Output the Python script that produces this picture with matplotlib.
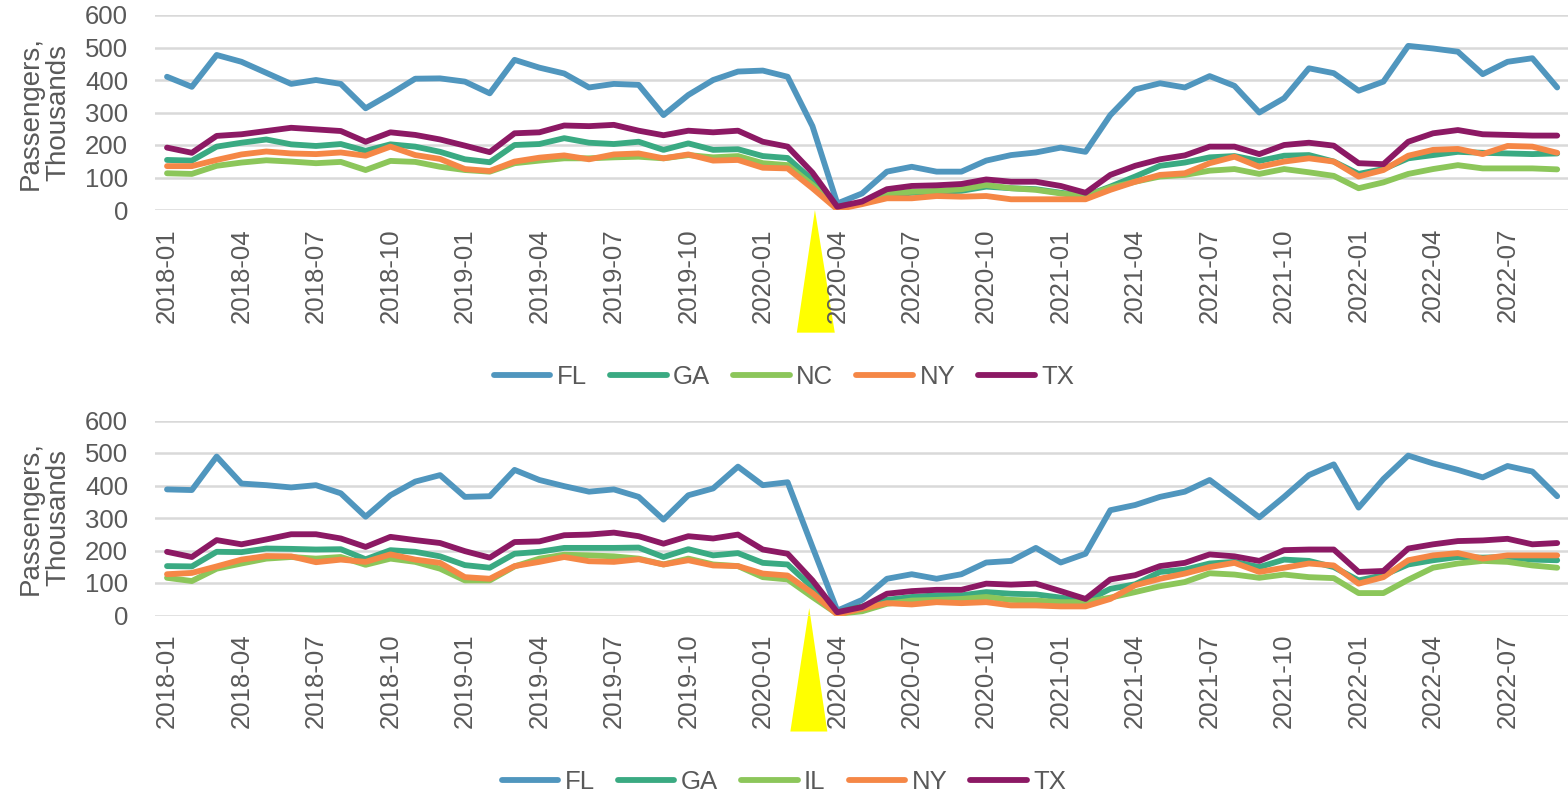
import matplotlib
matplotlib.use("Agg")
import matplotlib.pyplot as plt
import matplotlib.transforms as mtransforms
from matplotlib.patches import Polygon
import pandas as pd

months = pd.date_range("2018-01-01", "2022-09-01", freq="MS").strftime("%Y-%m").tolist()

# Top chart
top_FL = [410, 379, 477, 456, 422, 388, 400, 388, 313, 357, 404, 405, 395, 359, 462, 438, 420, 377, 388, 385,
          292, 354, 400, 426, 429, 410, 258, 20, 51, 118, 133, 118, 118, 152, 169, 177, 192, 179, 292, 371,
          390, 377, 412, 382, 300, 344, 436, 421, 367, 395, 505, 497, 487, 418, 456, 467, 377]
top_GA = [154, 152, 195, 207, 217, 202, 197, 203, 182, 202, 195, 179, 156, 147, 200, 203, 221, 207, 203, 210,
          185, 205, 185, 187, 166, 160, 92, 10, 23, 46, 53, 56, 59, 72, 67, 64, 53, 43, 72, 103,
          136, 146, 162, 166, 151, 167, 169, 149, 111, 126, 159, 169, 179, 176, 174, 172, 174]
top_NC = [113, 111, 136, 146, 153, 149, 144, 148, 123, 151, 148, 133, 123, 118, 144, 152, 159, 159, 162, 164,
          159, 169, 162, 166, 144, 138, 77, 8, 23, 51, 56, 59, 64, 77, 67, 62, 51, 43, 69, 87,
          103, 108, 121, 126, 111, 126, 116, 105, 67, 85, 111, 126, 138, 128, 128, 128, 125]
top_NY = [135, 135, 154, 171, 180, 174, 172, 177, 167, 195, 169, 157, 126, 120, 149, 161, 168, 156, 171, 174,
          159, 171, 152, 154, 130, 128, 67, 2, 18, 36, 36, 43, 41, 43, 33, 33, 33, 33, 62, 87,
          108, 113, 144, 164, 133, 149, 159, 149, 103, 123, 167, 185, 188, 172, 197, 195, 176]
top_TX = [192, 176, 228, 233, 243, 253, 248, 243, 210, 239, 231, 217, 198, 178, 236, 239, 260, 258, 262, 244,
          230, 244, 239, 244, 210, 195, 115, 10, 26, 64, 74, 76, 80, 94, 87, 87, 74, 53, 108, 136,
          156, 168, 195, 195, 172, 200, 207, 198, 144, 141, 210, 236, 246, 233, 231, 229, 229]

# Bottom chart
bot_FL = [388, 386, 489, 406, 401, 394, 401, 376, 304, 370, 412, 432, 365, 367, 448, 417, 398, 381, 388, 365,
          295, 370, 391, 458, 401, 410, 211, 15, 48, 113, 127, 113, 127, 163, 168, 208, 163, 190, 324, 340,
          365, 381, 417, 360, 302, 365, 432, 465, 332, 420, 492, 468, 448, 425, 460, 443, 367]
bot_GA = [152, 151, 196, 195, 206, 205, 203, 204, 173, 201, 196, 182, 155, 147, 190, 196, 208, 208, 208, 209,
          180, 204, 185, 192, 162, 157, 87, 10, 28, 48, 57, 62, 62, 72, 67, 65, 55, 44, 82, 96,
          134, 141, 160, 165, 149, 172, 168, 149, 108, 124, 157, 170, 180, 178, 180, 172, 170]
bot_IL = [116, 106, 144, 160, 175, 180, 175, 180, 156, 175, 165, 144, 108, 108, 151, 175, 187, 185, 182, 175,
          157, 175, 157, 152, 118, 111, 57, 5, 13, 36, 46, 48, 51, 57, 48, 46, 41, 41, 55, 72,
          90, 103, 130, 126, 116, 126, 118, 115, 69, 69, 110, 147, 160, 168, 165, 154, 147]
bot_NY = [127, 131, 151, 172, 183, 182, 164, 172, 165, 188, 172, 162, 118, 113, 152, 165, 180, 167, 165, 173,
          157, 170, 154, 152, 129, 123, 69, 3, 21, 38, 34, 41, 38, 41, 31, 31, 28, 28, 51, 93,
          113, 129, 149, 162, 134, 147, 160, 154, 98, 118, 170, 185, 192, 175, 185, 185, 185]
bot_TX = [196, 180, 232, 219, 234, 250, 250, 237, 211, 242, 232, 223, 198, 178, 226, 228, 247, 249, 255, 244,
          221, 244, 237, 249, 203, 190, 108, 10, 26, 67, 75, 79, 79, 98, 95, 98, 75, 51, 111, 124,
          152, 162, 188, 182, 168, 201, 203, 203, 134, 137, 206, 219, 229, 231, 236, 219, 223]

top_labels = ["FL", "GA", "NC", "NY", "TX"]
bot_labels = ["FL", "GA", "IL", "NY", "TX"]
colors = ["#5096BE", "#3AAA82", "#8CC65A", "#F58746", "#8C1964"]

yticks = [0, 100, 200, 300, 400, 500, 600]
ylabel = "Passengers,\nThousands"

TEXT = "#595959"
plt.rcParams["font.family"] = ["Liberation Sans", "DejaVu Sans"]

fig = plt.figure(figsize=(15.68, 7.94), dpi=100)
W, H = 1568, 794
left = 154.6 / W
width = 1415.0 / W
ax_top = fig.add_axes([left, 1 - 210 / H, width, 195 / H])
ax_bot = fig.add_axes([left, 1 - 615.5 / H, width, 195 / H])

x = list(range(len(months)))


def style(ax, series, labels, tri, legend_y):
    ax.set_axisbelow("line")
    for s, lab, c in zip(series, labels, colors):
        ax.plot(x, s, color=c, lw=4.2, label=lab, solid_capstyle="round",
                solid_joinstyle="round", zorder=2)
    ax.set_xlim(-0.5, len(months) - 0.5)
    ax.set_ylim(0, 600)
    ax.set_yticks(yticks)
    ax.set_yticklabels([str(v) for v in yticks])
    ax.set_xticks(x[::3])
    ax.set_xticklabels(months[::3], rotation=90, va="top", ha="center")
    ax.tick_params(axis="both", length=0, labelsize=18.5, colors=TEXT)
    ax.tick_params(axis="y", pad=19)
    ax.tick_params(axis="x", pad=13)
    ax.grid(axis="y", color="#D9D9D9", lw=1.8)
    for sp in ax.spines.values():
        sp.set_visible(False)
    ax.set_ylabel(ylabel, fontsize=20, color=TEXT, linespacing=1.05)
    ax.yaxis.set_label_coords(-0.059, 0.5)
    trans = mtransforms.blended_transform_factory(ax.transData, ax.transAxes)
    poly = Polygon(tri, closed=True, facecolor="#FFFF00", edgecolor="none",
                   transform=trans, clip_on=False, zorder=1)
    ax.add_patch(poly)
    handles, labs = ax.get_legend_handles_labels()
    fig.legend(handles, labs, loc="center", bbox_to_anchor=(0.5, legend_y), ncol=5,
               frameon=False, fontsize=18.5, labelcolor=TEXT, handlelength=2.2,
               handletextpad=0.25, columnspacing=0.9, borderaxespad=0)


style(ax_top, [top_FL, top_GA, top_NC, top_NY, top_TX], top_labels,
      [(26.1, 0.0), (25.37, -0.629), (26.9, -0.629)], 1 - 377 / H)
style(ax_bot, [bot_FL, bot_GA, bot_IL, bot_NY, bot_TX], bot_labels,
      [(25.87, 0.038), (25.11, -0.595), (26.6, -0.595)], 1 - 782 / H)

fig.savefig("out.png", dpi=100, facecolor="white")
